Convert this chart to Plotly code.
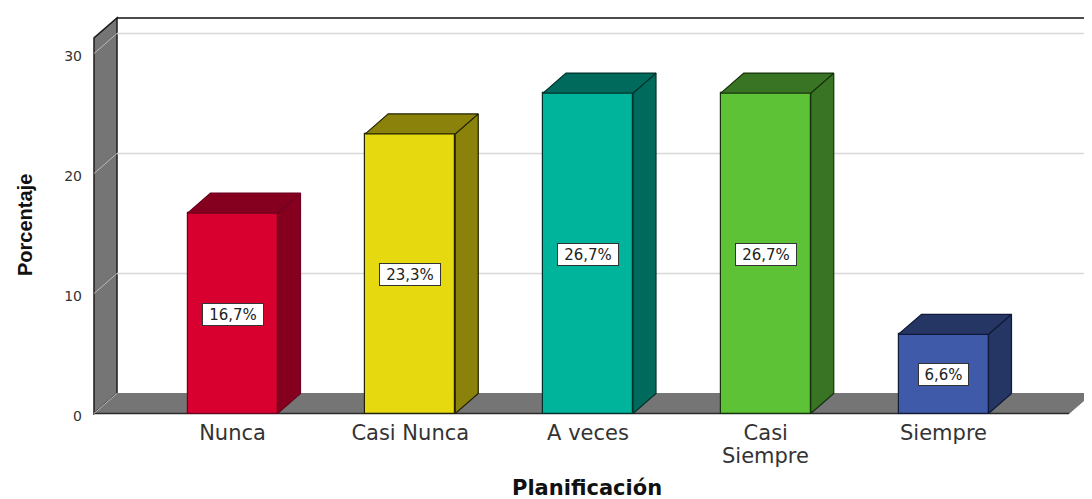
import plotly.graph_objects as go

# datos
categories = ["Nunca", "Casi Nunca", "A veces", "Casi", "Siempre"]
percentages = [16.7, 23.3, 26.7, 26.7, 6.6]
bar_labels = ["16,7%", "23,3%", "26,7%", "26,7%", "6,6%"]
y_ticks = [0, 10, 20, 30]
front_colors = ["#D7002F", "#E6D90F", "#00B39B", "#5EC236", "#3E5AA8"]
side_colors = ["#85001F", "#8A820A", "#006B5D", "#387423", "#253665"]
edge_colors = ["#6E0020", "#222200", "#00302A", "#16300C", "#101A38"]

# la pagina deja 8 px de margen en el body, todo va restado
page_offset = 8
width, height = 1092 - page_offset, 499 - page_offset
left, right, top, bottom = 90 - page_offset, 1092 - page_offset, 14 - page_offset, 420 - page_offset
zero_px = 413.5 - page_offset
y_scale = 12.0
x_scale = 177.75
first_bar_px = 232.5 - page_offset
x_min = (left - first_bar_px) / x_scale
x_max = (right - first_bar_px) / x_scale
y_min = (zero_px - bottom) / y_scale
y_max = (zero_px - top) / y_scale

# profundidad del efecto 3D
depth_x = 23 / x_scale
depth_y = 20 / y_scale
bar_width = 90 / x_scale
wall_x = (94 - page_offset - first_bar_px) / x_scale
floor_end = (1069 - page_offset - first_bar_px) / x_scale
wall_top = 31.3


def path(points):
    return "M " + " L ".join(f"{x},{y}" for x, y in points) + " Z"


shapes = []
# pared, suelo y rejilla van debajo de las barras
shapes.append(dict(type="path", layer="below", xref="x", yref="y",
                   path=path([(wall_x, 0), (wall_x, wall_top), (wall_x + depth_x, wall_top + depth_y), (wall_x + depth_x, depth_y)]),
                   fillcolor="#757575", line=dict(color="#1c1c1c", width=1.5)))
shapes.append(dict(type="path", layer="below", xref="x", yref="y",
                   path=path([(wall_x, 0), (wall_x + depth_x, depth_y), (x_max, depth_y), (floor_end, 0)]),
                   fillcolor="#757575", line=dict(color="#757575", width=1)))
shapes.append(dict(type="line", layer="below", xref="x", yref="y", x0=wall_x, x1=floor_end, y0=0, y1=0,
                   line=dict(color="#2a2a2a", width=1.5)))
shapes.append(dict(type="line", layer="below", xref="x", yref="y", x0=wall_x + depth_x, x1=x_max,
                   y0=wall_top + depth_y, y1=wall_top + depth_y, line=dict(color="#111111", width=1.5)))
for tick in y_ticks:
    shapes.append(dict(type="line", layer="below", xref="x", yref="y", x0=wall_x, x1=wall_x + depth_x,
                       y0=tick, y1=tick + depth_y, line=dict(color="#B8B8B8", width=1)))
    if tick > 0:
        shapes.append(dict(type="line", layer="below", xref="x", yref="y", x0=wall_x + depth_x, x1=x_max,
                           y0=tick + depth_y, y1=tick + depth_y, line=dict(color="#D8D8D8", width=1.5)))

fig = go.Figure()

positions = list(range(len(categories)))
fig.add_trace(go.Bar(x=positions, y=percentages, width=bar_width, showlegend=False, hoverinfo="skip",
                     marker=dict(color=front_colors, line=dict(color=edge_colors, width=1.2))))

# caras lateral y superior de cada barra
for i, value in enumerate(percentages):
    x0 = i - bar_width / 2
    x1 = i + bar_width / 2
    side_x = [x1, x1 + depth_x, x1 + depth_x, x1, x1]
    side_y = [0, depth_y, value + depth_y, value, 0]
    top_x = [x0, x0 + depth_x, x1 + depth_x, x1, x0]
    top_y = [value, value + depth_y, value + depth_y, value, value]
    for xs, ys in [(side_x, side_y), (top_x, top_y)]:
        fig.add_trace(go.Scatter(x=xs, y=ys, mode="lines", fill="toself", fillcolor=side_colors[i],
                                 line=dict(color=edge_colors[i], width=1.2), showlegend=False, hoverinfo="skip"))

annotations = []
for i, value in enumerate(percentages):
    annotations.append(dict(x=i, y=value / 2, xref="x", yref="y", text=bar_labels[i], showarrow=False,
                            font=dict(family="DejaVu Sans", size=15, color="#222222"), bgcolor="white",
                            bordercolor="#333333", borderwidth=1, borderpad=1,
                            width=58 if len(bar_labels[i]) == 5 else 47, height=19, yshift=-1))

# segunda linea de "Casi Siempre"
annotations.append(dict(x=3, y=0, xref="x", yref="y", text="Siempre", showarrow=False, yshift=-42,
                        font=dict(family="DejaVu Sans", size=21, color="#333333")))
annotations.append(dict(x=(587 - page_offset - left) / (right - left),
                        y=(bottom - (488 - page_offset)) / (bottom - top),
                        xref="x domain", yref="paper", xanchor="center", yanchor="middle",
                        text="Planificación", showarrow=False,
                        font=dict(family="DejaVu Sans", size=21, color="#111111", weight="bold")))
annotations.append(dict(x=(25 - page_offset - left) / (right - left),
                        y=(bottom - (225 - page_offset)) / (bottom - top),
                        xref="x domain", yref="paper", xanchor="center", yanchor="middle",
                        text="Porcentaje", showarrow=False, textangle=-90,
                        font=dict(family="Liberation Sans", size=20, color="#111111", weight="bold")))

fig.update_layout(
    width=width, height=height,
    margin=dict(l=left, r=width - right, t=top, b=height - bottom),
    paper_bgcolor="white", plot_bgcolor="white",
    shapes=shapes, annotations=annotations, bargap=0,
)
fig.update_xaxes(range=[x_min, x_max], tickvals=positions, ticktext=categories, showgrid=False, zeroline=False,
                 showline=False, ticks="", ticklabelstandoff=-2,
                 tickfont=dict(family="DejaVu Sans", size=21, color="#333333"))
fig.update_yaxes(range=[y_min, y_max], tickvals=y_ticks, showgrid=False, zeroline=False, showline=False,
                 ticks="", ticklabelstandoff=7, ticklabelshift=3,
                 tickfont=dict(family="DejaVu Sans", size=14, color="#333333"))

fig.write_html("out.html")
